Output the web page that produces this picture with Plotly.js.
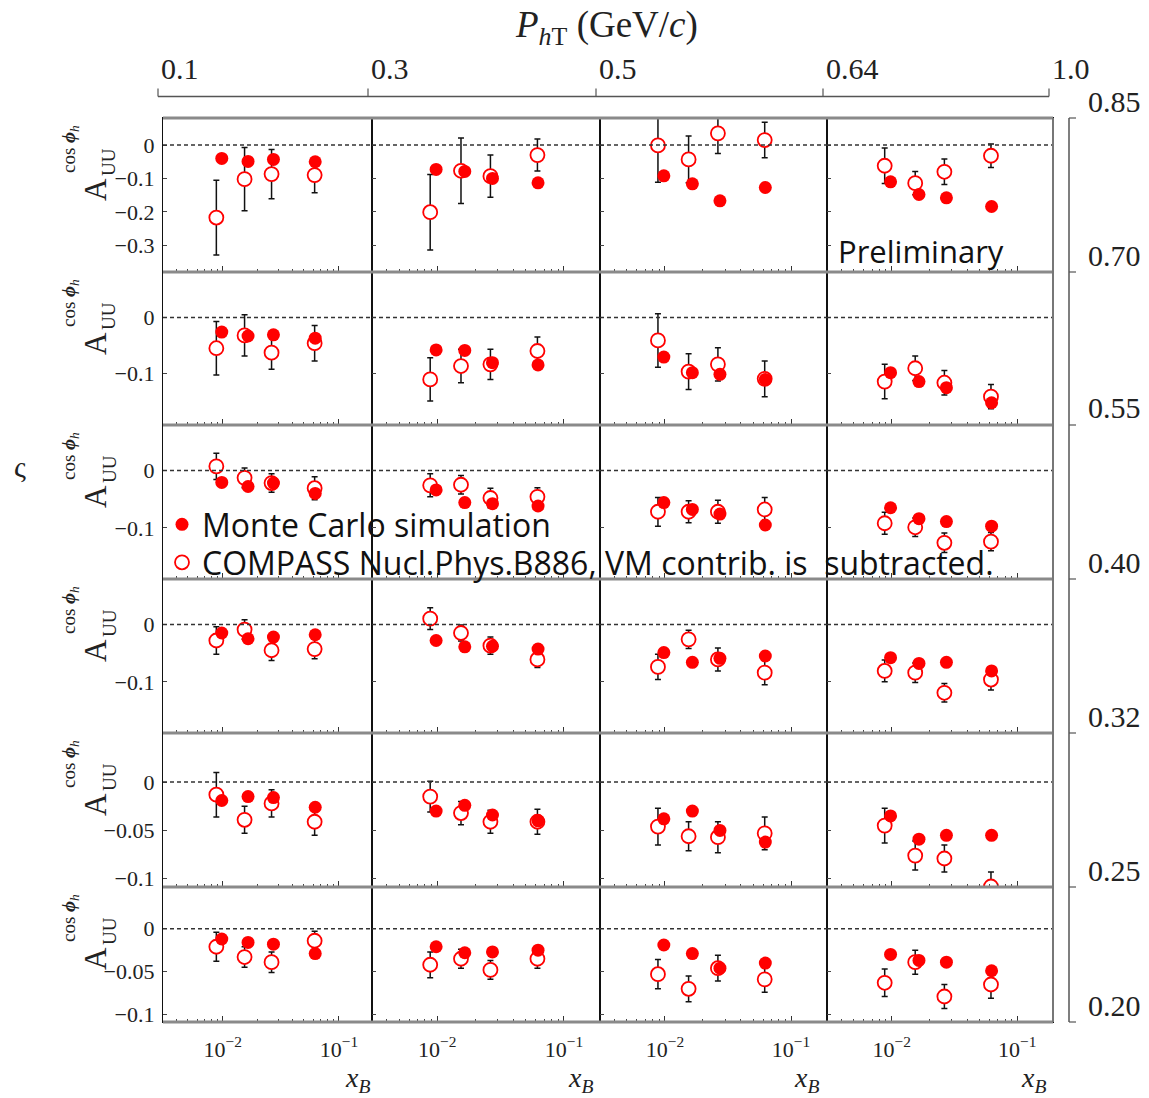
<!DOCTYPE html>
<html>
<head>
<meta charset="utf-8">
<script src="https://cdn.plot.ly/plotly-3.0.1.min.js"></script>
<style>html,body{margin:0;padding:0;background:#fff;}#chart{width:1149px;height:1098px;}</style>
</head>
<body>
<div id="chart"></div>
<script>
// ---------------- DATA ----------------
// x_B positions (same in every panel)
const xCompass = [0.0088, 0.0154, 0.0263, 0.0618];
const xMC      = [0.0098, 0.0165, 0.0273, 0.0625];

// top axis (P_hT bins, GeV/c) and right axis (z bins)
const pTBinLabels = ['0.1', '0.3', '0.5', '0.64', '1.0'];
const zBinLabels  = ['0.85', '0.70', '0.55', '0.40', '0.32', '0.25', '0.20'];

// Each row: one array per P_hT column (4 columns), 4 x_B points each
// Row 1: z 0.70-0.85
const compass_z1 = [[-0.217,-0.102,-0.087,-0.090],[-0.201,-0.077,-0.093,-0.030],[-0.001,-0.043,0.035,0.015],[-0.062,-0.114,-0.080,-0.032]];
const err_z1     = [[0.112,0.095,0.074,0.053],[0.113,0.098,0.063,0.048],[0.110,0.070,0.060,0.053],[0.053,0.035,0.038,0.035]];
const mc_z1      = [[-0.040,-0.049,-0.043,-0.050],[-0.073,-0.079,-0.100,-0.113],[-0.092,-0.116,-0.167,-0.127],[-0.110,-0.148,-0.158,-0.184]];
// Row 2: z 0.55-0.70
const compass_z2 = [[-0.055,-0.032,-0.063,-0.046],[-0.111,-0.087,-0.084,-0.060],[-0.041,-0.097,-0.084,-0.110],[-0.115,-0.091,-0.117,-0.142]];
const err_z2     = [[0.048,0.037,0.030,0.032],[0.039,0.030,0.027,0.025],[0.048,0.032,0.030,0.032],[0.031,0.022,0.022,0.022]];
const mc_z2      = [[-0.026,-0.033,-0.031,-0.037],[-0.058,-0.059,-0.081,-0.085],[-0.071,-0.099,-0.102,-0.111],[-0.099,-0.115,-0.126,-0.153]];
// Row 3: z 0.40-0.55
const compass_z3 = [[0.007,-0.013,-0.022,-0.031],[-0.026,-0.025,-0.048,-0.046],[-0.072,-0.072,-0.072,-0.068],[-0.092,-0.099,-0.126,-0.124]];
const err_z3     = [[0.023,0.017,0.016,0.020],[0.020,0.016,0.017,0.016],[0.025,0.019,0.020,0.021],[0.019,0.016,0.017,0.016]];
const mc_z3      = [[-0.021,-0.028,-0.022,-0.040],[-0.034,-0.056,-0.058,-0.062],[-0.056,-0.068,-0.076,-0.095],[-0.065,-0.084,-0.089,-0.097]];
// Row 4: z 0.32-0.40
const compass_z4 = [[-0.028,-0.009,-0.045,-0.043],[0.010,-0.015,-0.037,-0.061],[-0.074,-0.026,-0.061,-0.084],[-0.081,-0.084,-0.119,-0.096]];
const err_z4     = [[0.024,0.017,0.018,0.017],[0.019,0.014,0.015,0.014],[0.022,0.016,0.020,0.021],[0.019,0.017,0.016,0.018]];
const mc_z4      = [[-0.015,-0.025,-0.022,-0.018],[-0.028,-0.039,-0.038,-0.043],[-0.049,-0.066,-0.059,-0.055],[-0.058,-0.068,-0.066,-0.081]];
// Row 5: z 0.25-0.32
const compass_z5 = [[-0.013,-0.039,-0.022,-0.041],[-0.015,-0.032,-0.041,-0.041],[-0.046,-0.056,-0.057,-0.053],[-0.045,-0.076,-0.079,-0.108]];
const err_z5     = [[0.023,0.014,0.014,0.014],[0.016,0.012,0.012,0.013],[0.019,0.015,0.016,0.017],[0.018,0.015,0.014,0.015]];
const mc_z5      = [[-0.019,-0.015,-0.016,-0.026],[-0.030,-0.024,-0.034,-0.040],[-0.038,-0.030,-0.050,-0.062],[-0.035,-0.059,-0.055,-0.055]];
// Row 6: z 0.20-0.25
const compass_z6 = [[-0.021,-0.033,-0.039,-0.014],[-0.042,-0.035,-0.048,-0.035],[-0.053,-0.070,-0.046,-0.059],[-0.063,-0.039,-0.079,-0.065]];
const err_z6     = [[0.017,0.012,0.012,0.011],[0.015,0.011,0.011,0.011],[0.017,0.015,0.015,0.015],[0.016,0.014,0.014,0.016]];
const mc_z6      = [[-0.012,-0.016,-0.018,-0.029],[-0.021,-0.028,-0.027,-0.025],[-0.019,-0.029,-0.046,-0.040],[-0.030,-0.037,-0.039,-0.049]];

// y-axis ticks per row
const yTicks1 = [0, -0.1, -0.2, -0.3];
const yTickText1 = ['0', '\u22120.1', '\u22120.2', '\u22120.3'];
const yTicks2 = [0, -0.1];
const yTickText2 = ['0', '\u22120.1'];
const yTicks3 = [0, -0.05, -0.1];
const yTickText3 = ['0', '\u22120.05', '\u22120.1'];

const legendMC = 'Monte Carlo simulation';
const legendCompass = 'COMPASS Nucl.Phys.B886, VM contrib. is \u00a0subtracted.';

// ---------------- LAYOUT GEOMETRY ----------------
const W = 1149, H = 1098;
const colEdges = [163, 372, 600, 827, 1053];
const rowEdges = [118, 272, 425, 579, 733, 887, 1022];
const rowRanges = [[-0.38, 0.081], [-0.193, 0.082], [-0.189, 0.079], [-0.189, 0.079], [-0.1085, 0.0508], [-0.1087, 0.0486]];
const rowTickVals = [yTicks1, yTicks2, yTicks2, yTicks2, yTicks3, yTicks3];
const rowTickText = [yTickText1, yTickText2, yTickText2, yTickText2, yTickText3, yTickText3];
const compassRows = [compass_z1, compass_z2, compass_z3, compass_z4, compass_z5, compass_z6];
const errRows = [err_z1, err_z2, err_z3, err_z4, err_z5, err_z6];
const mcRows = [mc_z1, mc_z2, mc_z3, mc_z4, mc_z5, mc_z6];

const px = v => v / W;
const py = v => 1 - v / H;
const SERIF = 'Liberation Serif, Times New Roman, serif';
const SANS = 'Open Sans, Noto Sans, sans-serif';

const minorVals = [];
[0.001, 0.01].forEach(d => { for (let k = 2; k <= 9; k++) minorVals.push(k * d); });

const legendBase = {
  xanchor: 'left', yanchor: 'top', bgcolor: 'rgba(0,0,0,0)', borderwidth: 0,
  font: {family: SANS, size: 32, color: '#111'}, itemwidth: 30, tracegroupgap: 0
};

const traces = [];
const layout = {
  width: W, height: H,
  margin: {l: 0, r: 0, t: 0, b: 0},
  paper_bgcolor: '#fff', plot_bgcolor: '#fff',
  showlegend: true,
  legend: Object.assign({}, legendBase, {x: px(162), y: py(497)}),
  legend2: Object.assign({}, legendBase, {x: px(162), y: py(535)}),
  shapes: [], annotations: []
};

for (let r = 0; r < 6; r++) {
  for (let c = 0; c < 4; c++) {
    const idx = r * 4 + c + 1;
    const sfx = idx === 1 ? '' : String(idx);
    const xid = 'x' + sfx, yid = 'y' + sfx;
    layout['xaxis' + sfx] = {
      type: 'log', range: [-2.515, -0.715],
      domain: [px(colEdges[c]), px(colEdges[c + 1])],
      anchor: yid, showgrid: false, zeroline: false,
      showline: true, mirror: true, linecolor: '#111', linewidth: 1.2,
      ticks: 'inside', ticklen: 6, tickcolor: '#333', tickwidth: 1,
      tickvals: [0.01, 0.1], ticktext: ['10<sup>\u22122</sup>', '10<sup>\u22121</sup>'],
      showticklabels: r === 5, ticklabelstandoff: 7,
      tickfont: {family: SERIF, size: 22, color: '#222'},
      minor: {tickvals: minorVals, ticks: 'inside', ticklen: 3, tickcolor: '#444', tickwidth: 1, showgrid: false}
    };
    layout['yaxis' + sfx] = {
      range: rowRanges[r],
      domain: [py(rowEdges[r + 1]), py(rowEdges[r])],
      anchor: xid, showgrid: false, zeroline: false,
      showline: true, mirror: true, linecolor: '#111', linewidth: 1.2,
      ticks: 'inside', ticklen: 4, tickcolor: '#444',
      tickvals: rowTickVals[r], ticktext: rowTickText[r],
      showticklabels: c === 0, ticklabelstandoff: 3,
      tickfont: {family: SERIF, size: 22, color: '#222'}
    };
    // zero dashed line
    layout.shapes.push({type: 'line', xref: xid + ' domain', x0: 0, x1: 1, yref: yid, y0: 0, y1: 0,
      line: {color: '#333', width: 1.5, dash: '4px,3px'}});

    traces.push({
      type: 'scatter', mode: 'markers', xaxis: xid, yaxis: yid,
      x: xCompass, y: compassRows[r][c],
      error_y: {type: 'data', array: errRows[r][c], visible: true, color: '#111', thickness: 1.5, width: 3},
      marker: {symbol: 'circle', size: 14, color: '#ffffff', line: {color: '#ff0000', width: 1.8}},
      name: legendCompass, showlegend: idx === 1, legend: 'legend2', hoverinfo: 'skip'
    });
    traces.push({
      type: 'scatter', mode: 'markers', xaxis: xid, yaxis: yid,
      x: xMC, y: mcRows[r][c],
      marker: {symbol: 'circle', size: 13, color: '#ff0000', line: {width: 0}},
      name: legendMC, showlegend: idx === 1, legend: 'legend', hoverinfo: 'skip'
    });
  }
  // y-axis title pieces (rotated)
  const top = rowEdges[r];
  layout.annotations.push({xref: 'paper', yref: 'paper', x: px(95), y: py(top + 72), text: 'A',
    textangle: -90, showarrow: false, xanchor: 'center', yanchor: 'middle',
    font: {family: SERIF, size: 31, color: '#222'}});
  layout.annotations.push({xref: 'paper', yref: 'paper', x: px(109), y: py(top + 44), text: 'UU',
    textangle: -90, showarrow: false, xanchor: 'center', yanchor: 'middle',
    font: {family: SERIF, size: 19, color: '#222'}});
  layout.annotations.push({xref: 'paper', yref: 'paper', x: px(70), y: py(top + 31),
    text: 'cos <b><i>\u03d5</i></b><sub><i>h</i></sub>',
    textangle: -90, showarrow: false, xanchor: 'center', yanchor: 'middle',
    font: {family: SERIF, size: 19, color: '#222'}});
}

// gray horizontal row separators
rowEdges.forEach(yv => {
  layout.shapes.push({type: 'line', xref: 'paper', yref: 'paper', x0: px(colEdges[0]), x1: px(colEdges[4]),
    y0: py(yv), y1: py(yv), line: {color: '#8a8a8a', width: 3}});
});
layout.shapes.push({type: 'line', xref: 'paper', yref: 'paper', x0: px(colEdges[4]), x1: px(colEdges[4]),
  y0: py(rowEdges[0]), y1: py(rowEdges[6]), line: {color: '#777', width: 2}});

// top P_hT axis
const topY = 96.5;
layout.shapes.push({type: 'line', xref: 'paper', yref: 'paper', x0: px(colEdges[0] - 5), x1: px(colEdges[4] - 4),
  y0: py(topY), y1: py(topY), line: {color: '#555', width: 1.5}});
pTBinLabels.forEach((t, i) => {
  const xt = colEdges[i] - (i === 0 ? 5 : 4);
  layout.shapes.push({type: 'line', xref: 'paper', yref: 'paper', x0: px(xt), x1: px(xt),
    y0: py(topY), y1: py(topY - 8), line: {color: '#555', width: 1.2}});
  layout.annotations.push({xref: 'paper', yref: 'paper', x: px(xt + 1), y: py(68), text: t,
    showarrow: false, xanchor: 'left', yanchor: 'middle', font: {family: SERIF, size: 30, color: '#222'}});
});
layout.annotations.push({xref: 'paper', yref: 'paper', x: px(606), y: py(27),
  text: '<i>P</i><sub><i>h</i>T</sub> (GeV/<i>c</i>)', showarrow: false, xanchor: 'center', yanchor: 'middle',
  font: {family: SERIF, size: 37, color: '#222'}});

// right z axis
const rightX = 1069;
layout.shapes.push({type: 'line', xref: 'paper', yref: 'paper', x0: px(rightX), x1: px(rightX),
  y0: py(rowEdges[0]), y1: py(rowEdges[6]), line: {color: '#555', width: 1.5}});
zBinLabels.forEach((t, i) => {
  layout.shapes.push({type: 'line', xref: 'paper', yref: 'paper', x0: px(rightX), x1: px(rightX + 7),
    y0: py(rowEdges[i]), y1: py(rowEdges[i]), line: {color: '#555', width: 1.2}});
  layout.annotations.push({xref: 'paper', yref: 'paper', x: px(1086), y: py(rowEdges[i] - 17), text: t,
    showarrow: false, xanchor: 'left', yanchor: 'middle', font: {family: SERIF, size: 30, color: '#222'}});
});

// x_B labels
[357, 580, 806, 1033].forEach(xv => {
  layout.annotations.push({xref: 'paper', yref: 'paper', x: px(xv), y: py(1079),
    text: '<i>x</i><sub><i>B</i></sub>', showarrow: false, xanchor: 'center', yanchor: 'middle',
    font: {family: SERIF, size: 28, color: '#222'}});
});

// Preliminary
layout.annotations.push({xref: 'paper', yref: 'paper', x: px(836), y: py(251), text: 'Preliminary',
  showarrow: false, xanchor: 'left', yanchor: 'middle', font: {family: SANS, size: 31, color: '#111'}});

// stray cropped glyph at the left edge of the original figure
layout.annotations.push({xref: 'paper', yref: 'paper', x: px(20), y: py(466), text: '\u03c2',
  showarrow: false, xanchor: 'center', yanchor: 'middle', font: {family: SERIF, size: 30, color: '#222'}});

Plotly.newPlot('chart', traces, layout, {staticPlot: true, displayModeBar: false});
</script>
</body>
</html>
